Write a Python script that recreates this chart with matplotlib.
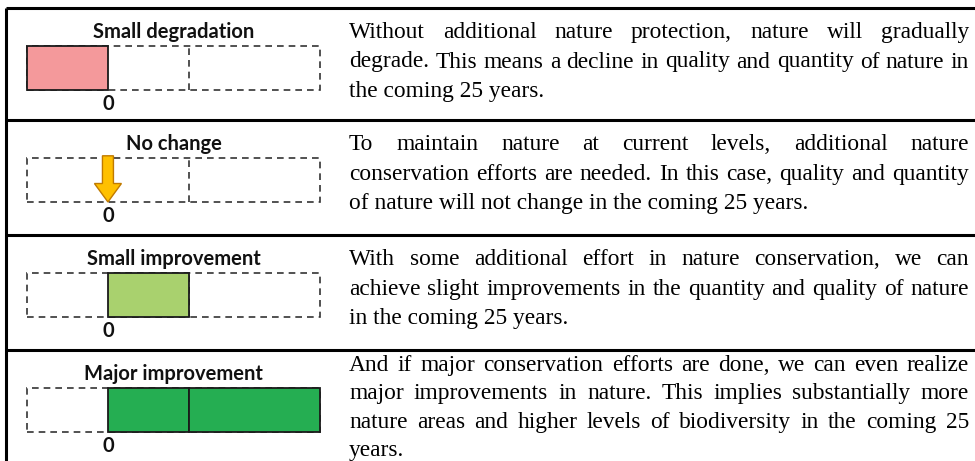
import matplotlib
matplotlib.use('Agg')
import matplotlib.pyplot as plt
from matplotlib.patches import Rectangle, FancyArrow

# Scenario rows
titles = ['Small degradation', 'No change', 'Small improvement', 'Major improvement']
# bar extents on the change scale (start, end); None = no bar (arrow instead)
bar_start = [-1, 0, 0, 0]
bar_end = [0, 0, 1, 2.62]
bar_colors = ['#F4999B', None, '#A9D16E', '#25AE52']
scale_edges = [-1, 0, 1, 2.62]

descriptions = [
    ["Without additional nature protection, nature will gradually",
     "degrade. This means a decline in quality and quantity of nature in",
     "the coming 25 years."],
    ["To maintain nature at current levels, additional nature",
     "conservation efforts are needed. In this case, quality and quantity",
     "of nature will not change in the coming 25 years."],
    ["With some additional effort in nature conservation, we can",
     "achieve slight improvements in the quantity and quality of nature",
     "in the coming 25 years."],
    ["And if major conservation efforts are done, we can even realize",
     "major improvements in nature. This implies substantially more",
     "nature areas and higher levels of biodiversity in the coming 25",
     "years."],
]

W, H = 975, 461
row_tops = [8, 120, 235, 350]
text_left, text_right = 349, 969

fig = plt.figure(figsize=(W / 100, H / 100), dpi=100)
ax = fig.add_axes([0, 0, 1, 1])
ax.set_xlim(0, W)
ax.set_ylim(H, 0)
ax.axis('off')

# table lines
lw = 2.2
ax.plot([6, 6], [row_tops[0], H], color='black', lw=lw, solid_capstyle='butt')
for y in row_tops:
    ax.plot([6, W], [y, y], color='black', lw=lw, solid_capstyle='butt')

renderer = fig.canvas.get_renderer()
serif = dict(family='Liberation Serif', size=16.8, color='black')


def word_width(w):
    t = ax.text(0, 0, w, **serif)
    bb = t.get_window_extent(renderer)
    t.remove()
    return bb.width


for i, lines in enumerate(descriptions):
    top = row_tops[i]
    n = len(lines)
    if n == 3:
        first, step = top + 30, 29.5
    else:
        first, step = top + 21, 28.3
    for j, line in enumerate(lines):
        yb = first + j * step
        words = line.split()
        if j == n - 1:
            ax.text(text_left, yb, line, ha='left', va='baseline', **serif)
            continue
        widths = [word_width(w) for w in words]
        gap = (text_right - text_left - sum(widths)) / (len(words) - 1)
        x = text_left
        for w, wd in zip(words, widths):
            ax.text(x, yb, w, ha='left', va='baseline', **serif)
            x += wd + gap

# scale diagrams
box_x0, box_x1 = 27, 320
for i, title in enumerate(titles):
    top = row_tops[i]
    ax.text((box_x0 + box_x1) / 2, top + 24, title, ha='center', va='center',
            family='Lato', fontweight='bold', size=14.5, color='#111111')
    ax.text(108, top + 96, '0', ha='center', va='center',
            family='Lato', fontweight='bold', size=14.5, color='#111111')

    y0, y1 = top + 38, top + 82
    sub = fig.add_axes([box_x0 / W, 1 - y1 / H, (box_x1 - box_x0) / W, (y1 - y0) / H])
    sub.set_xlim(scale_edges[0], scale_edges[-1])
    sub.set_ylim(0, 1)
    sub.axis('off')

    dash = dict(fill=False, edgecolor='#333333', lw=1.2, linestyle=(0, (4, 3)), clip_on=False)
    sub.add_patch(Rectangle((scale_edges[0], 0), scale_edges[-1] - scale_edges[0], 1, **dash))
    sub.plot([scale_edges[2], scale_edges[2]], [0, 1], color='#333333', lw=1.2,
             linestyle=(0, (4, 3)), clip_on=False)

    if bar_colors[i] is not None:
        # split bar into scale segments
        for a, b in zip(scale_edges[:-1], scale_edges[1:]):
            s, e = max(a, bar_start[i]), min(b, bar_end[i])
            if e > s:
                sub.barh(0.5, e - s, left=s, height=1, color=bar_colors[i],
                         edgecolor='#1a1a1a', lw=1.3, clip_on=False, zorder=3)
    else:
        sub.add_patch(FancyArrow(0, 1.05, 0, -1.05, width=11 / 81, head_width=27 / 81,
                                 head_length=0.42, length_includes_head=True,
                                 facecolor='#FFC000', edgecolor='#C07A00', lw=1.0,
                                 clip_on=False, zorder=4))

fig.savefig('out.png', dpi=100)
